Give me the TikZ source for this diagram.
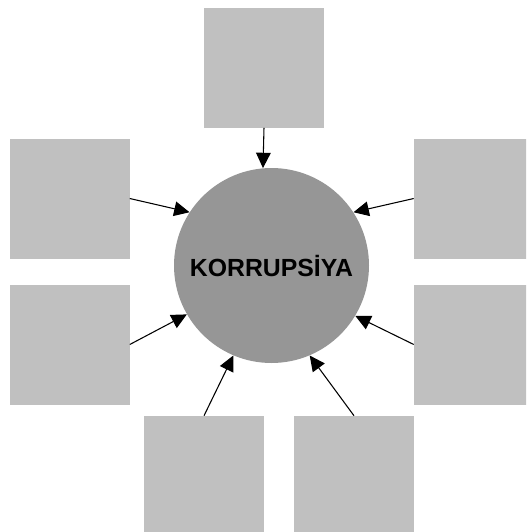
\documentclass[tikz,border=0pt]{standalone}
\usepackage{fontspec}
\setmainfont{Liberation Sans}
\usetikzlibrary{arrows.meta}
\definecolor{BoxGray}{RGB}{192, 192, 192}
\definecolor{CoreGray}{RGB}{150, 150, 150}

\begin{document}
\begin{tikzpicture}[x=0.75pt, y=-0.75pt]
      \tikzstyle{cause}=[rectangle, fill=BoxGray, minimum width=90pt, minimum height=90pt, inner sep=0pt];
      \tikzstyle{core}=[circle, fill=CoreGray, minimum size=146.25pt, inner sep=0pt,
        font=\fontsize{18.6}{20}\selectfont\bfseries];
      \tikzstyle{influence}=[line width=0.8pt, -{Triangle[length=11.5pt, width=11pt]}];

      \clip (0, 0) rectangle (526, 532);

      \node[core] (korr) at (271.5, 265.5) {KORRUPSİYA};

      \node[cause] (top) at (264, 67.5) {};
      \node[cause] (lu) at (69.5, 198.5) {};
      \node[cause] (ll) at (69.5, 344.5) {};
      \node[cause] (ru) at (474, 198.5) {};
      \node[cause] (rl) at (474, 344.5) {};
      \node[cause] (bl) at (204, 476) {};
      \node[cause] (br) at (354, 476) {};

      \draw[influence] (top.south) -- (korr.95);
      \draw[influence] (lu.east) -- (korr.147);
      \draw[influence] (ll.east) -- (korr.210);
      \draw[influence] (ru.west) -- (korr.33);
      \draw[influence] (rl.west) -- (korr.329);
      \draw[influence] (bl.north) -- (korr.247);
      \draw[influence] (br.north) -- (korr.293);
\end{tikzpicture}
\end{document}
